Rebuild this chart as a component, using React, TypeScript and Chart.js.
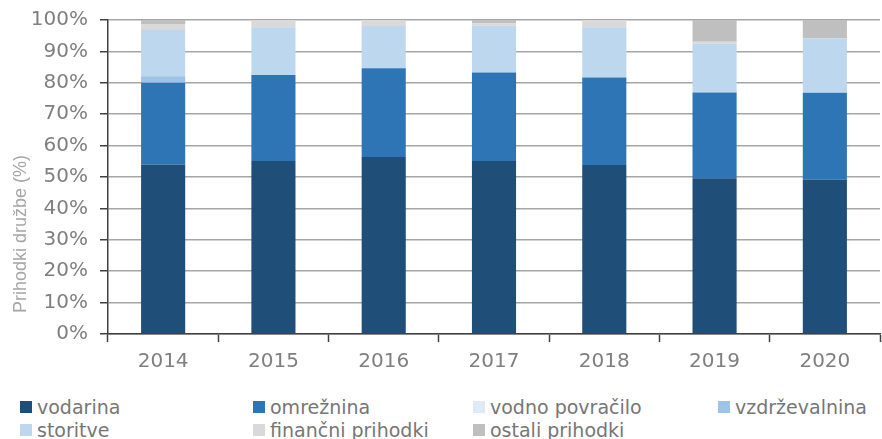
import React, { useEffect, useRef } from "react";
import { Chart, registerables } from "chart.js";

Chart.register(...registerables);

const years = ["2014", "2015", "2016", "2017", "2018", "2019", "2020"];
const vodarina = [54.0, 55.1, 56.4, 55.1, 53.8, 49.6, 49.1];
const omreznina = [26.0, 27.4, 28.2, 28.2, 27.9, 27.3, 27.7];
const vodnoPovracilo = [0, 0, 0, 0, 0, 0, 0];
const vzdrzevalnina = [2.1, 0, 0, 0, 0, 0, 0];
const storitve = [14.7, 15.2, 13.5, 14.9, 16.0, 15.5, 17.4];
const financni = [1.9, 2.3, 1.9, 0.8, 2.3, 0.7, 0];
const ostali = [1.3, 0, 0, 1.0, 0, 6.9, 5.8];
const yTicks = [0, 10, 20, 30, 40, 50, 60, 70, 80, 90, 100];

const seriesNames = ["vodarina", "omrežnina", "vodno povračilo", "vzdrževalnina", "storitve", "finančni prihodki", "ostali prihodki"];
const seriesColors = ["#1f4e79", "#2e75b6", "#deebf7", "#9dc3e6", "#bdd7ee", "#d9d9d9", "#bfbfbf"];
const seriesData = [vodarina, omreznina, vodnoPovracilo, vzdrzevalnina, storitve, financni, ostali];

const FONT = "'DejaVu Sans', sans-serif";

const yTitlePlugin = {
  id: "yTitle",
  afterDraw(chart: any) {
    const ctx = chart.ctx;
    ctx.save();
    ctx.translate(21, 234);
    ctx.rotate(-Math.PI / 2);
    ctx.font = `18px 'Liberation Sans', Arial, sans-serif`;
    ctx.fillStyle = "#a6a6a6";
    ctx.textAlign = "center";
    ctx.textBaseline = "middle";
    ctx.fillText("Prihodki družbe (%)", 0, 0);
    ctx.restore();
  },
};

export default function App() {
  const ref = useRef<HTMLCanvasElement | null>(null);
  useEffect(() => {
    if (!ref.current) return;
    const chart = new Chart(ref.current, {
      type: "bar",
      data: {
        labels: years,
        datasets: seriesNames.map((n, i) => ({
          label: n,
          data: seriesData[i],
          backgroundColor: seriesColors[i],
          borderWidth: 0,
          barPercentage: 0.4,
          categoryPercentage: 1,
        })),
      },
      options: {
        responsive: false,
        animation: false,
        layout: { padding: { top: 20, right: 2, left: 0, bottom: 0 } },
        plugins: { legend: { display: false }, tooltip: { enabled: false } },
        scales: {
          x: {
            stacked: true,
            offset: true,
            grid: { display: true, offset: true, drawOnChartArea: false, drawTicks: true, tickLength: 8, tickColor: "#404040", tickWidth: 1.5 },
            border: { display: true, color: "#404040", width: 1.5 },
            ticks: { padding: 8, color: "#7f7f7f", font: { family: FONT, size: 20 } },
            afterFit: (s: any) => { s.height = 42; },
          },
          y: {
            stacked: true,
            min: 0,
            max: 100,
            afterBuildTicks: (s: any) => { s.ticks = yTicks.map((v) => ({ value: v })); },
            grid: { color: "#a6a6a6", lineWidth: 1.5, tickLength: 8, tickColor: "#404040" },
            border: { display: true, color: "#404040", width: 1.5 },
            ticks: {
              padding: 12,
              color: "#7f7f7f",
              font: { family: FONT, size: 20, lineHeight: 0.8 },
              callback: (v: any) => v + "%",
            },
            afterFit: (s: any) => { s.width = 108; },
          },
        },
      },
      plugins: [yTitlePlugin],
    });
    return () => chart.destroy();
  }, []);

  const legendPos = [
    [20, 396], [253, 396], [473, 396], [718, 396],
    [20, 419], [253, 419], [473, 419],
  ];

  return (
    <div style={{ position: "absolute", left: 0, top: 0, width: 882, height: 439, background: "#fff", overflow: "hidden" }}>
      <canvas ref={ref} width={882} height={376} style={{ display: "block", width: 882, height: 376 }} />
      {seriesNames.map((n, k) => (
        <div key={n} style={{ position: "absolute", left: legendPos[k][0], top: legendPos[k][1], display: "flex", alignItems: "center", height: 22, fontFamily: FONT, fontSize: 19, color: "#767676", whiteSpace: "nowrap" }}>
          <span style={{ display: "inline-block", width: 12, height: 12, background: seriesColors[k], marginRight: 5 }} />
          <span>{n}</span>
        </div>
      ))}
    </div>
  );
}
